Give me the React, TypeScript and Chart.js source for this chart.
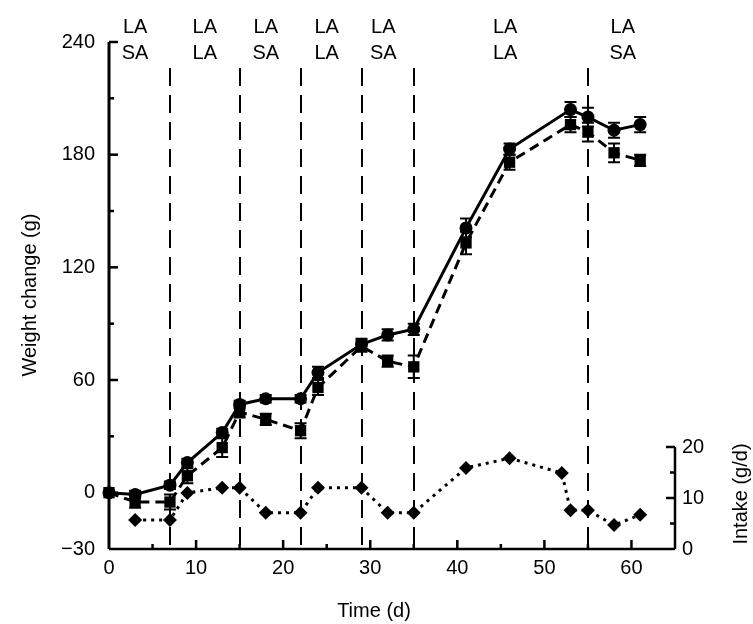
import React, { useEffect, useRef } from 'react';
import { Chart, registerables } from 'chart.js';

Chart.register(...registerables);

// ---- data ----
const weightDays = [0, 3, 7, 9, 13, 15, 18, 22, 24, 29, 32, 35, 41, 46, 53, 55, 58, 61];
const weightCircle = [0, -1, 4, 16, 32, 47, 50, 50, 64, 79, 84, 87, 141, 183, 204, 200, 193, 196];
const errCircle = [0, 2, 2, 2, 2, 2, 2, 2, 3, 3, 3, 3, 5, 3, 4, 5, 4, 4];
const weightSquare = [0, -5, -5, 9, 24, 43, 39, 33, 56, 78, 70, 67, 133, 176, 196, 192, 181, 177];
const errSquare = [0, 3, 4, 4, 5, 3, 3, 4, 4, 3, 3, 6, 6, 4, 4, 5, 5, 3];
const intakeDays = [3, 7, 9, 13, 15, 18, 22, 24, 29, 32, 35, 41, 46, 52, 53, 55, 58, 61];
const intake = [5.7, 5.7, 11, 12, 12, 7.1, 7.1, 12, 12, 7.1, 7.1, 15.9, 17.8, 14.9, 7.6, 7.6, 4.7, 6.7];

const phaseBoundaries = [7, 15, 22, 29, 35, 55];
const phaseLabelDays = [3, 11, 18, 25, 31.5, 45.5, 59];
const phaseTop = ['LA', 'LA', 'LA', 'LA', 'LA', 'LA', 'LA'];
const phaseBottom = ['SA', 'LA', 'SA', 'LA', 'SA', 'LA', 'SA'];

const xTicks = [0, 10, 20, 30, 40, 50, 60];
const xMinor = [5, 15, 25, 35, 45, 55];
const yTicks = [-30, 0, 60, 120, 180, 240];
const yMinor = [30, 90, 150, 210];
const y2Ticks = [0, 10, 20];
const y2Minor = [5, 15];

const FONT = "'Liberation Sans', Arial, Helvetica, sans-serif";
const FS = 20;

const overlay = {
  id: 'overlay',
  beforeDatasetsDraw(chart: any) {
    const ctx = chart.ctx;
    const x = chart.scales.x;
    const y = chart.scales.y;
    const area = chart.chartArea;
    ctx.save();
    ctx.strokeStyle = '#000';
    ctx.lineWidth = 2;
    ctx.setLineDash([18, 9]);
    phaseBoundaries.forEach((d) => {
      const px = Math.round(x.getPixelForValue(d));
      ctx.beginPath();
      ctx.moveTo(px, 68);
      ctx.lineTo(px, area.bottom);
      ctx.stroke();
    });
    ctx.setLineDash([]);
    const drawErr = (vals: number[], errs: number[]) => {
      ctx.lineWidth = 2;
      vals.forEach((v, i) => {
        const e = errs[i];
        if (!e) return;
        const px = x.getPixelForValue(weightDays[i]);
        const top = y.getPixelForValue(v + e);
        const bot = y.getPixelForValue(v - e);
        ctx.beginPath();
        ctx.moveTo(px, top);
        ctx.lineTo(px, bot);
        ctx.moveTo(px - 6, top);
        ctx.lineTo(px + 6, top);
        ctx.moveTo(px - 6, bot);
        ctx.lineTo(px + 6, bot);
        ctx.stroke();
      });
    };
    drawErr(weightCircle, errCircle);
    drawErr(weightSquare, errSquare);
    ctx.restore();
  },
  afterDraw(chart: any) {
    const ctx = chart.ctx;
    const x = chart.scales.x;
    const y = chart.scales.y;
    const y2 = chart.scales.y2;
    const area = chart.chartArea;
    ctx.save();
    ctx.strokeStyle = '#000';
    ctx.fillStyle = '#000';
    ctx.lineCap = 'butt';
    ctx.lineWidth = 3;
    ctx.beginPath();
    ctx.moveTo(area.left, area.top);
    ctx.lineTo(area.left, area.bottom);
    ctx.stroke();
    ctx.lineWidth = 2.5;
    ctx.beginPath();
    ctx.moveTo(area.left, area.bottom);
    ctx.lineTo(area.right, area.bottom);
    ctx.stroke();
    ctx.beginPath();
    ctx.moveTo(area.right, y2.getPixelForValue(20));
    ctx.lineTo(area.right, area.bottom);
    ctx.stroke();
    ctx.lineWidth = 2.5;
    yTicks.forEach((t) => {
      if (t === -30) return;
      const py = y.getPixelForValue(t);
      ctx.beginPath();
      ctx.moveTo(area.left, py);
      ctx.lineTo(area.left + 9, py);
      ctx.stroke();
    });
    yMinor.forEach((t) => {
      const py = y.getPixelForValue(t);
      ctx.beginPath();
      ctx.moveTo(area.left, py);
      ctx.lineTo(area.left + 5, py);
      ctx.stroke();
    });
    xTicks.forEach((t) => {
      if (t === 0) return;
      const px = x.getPixelForValue(t);
      ctx.beginPath();
      ctx.moveTo(px, area.bottom);
      ctx.lineTo(px, area.bottom - 9);
      ctx.stroke();
    });
    xMinor.forEach((t) => {
      const px = x.getPixelForValue(t);
      ctx.beginPath();
      ctx.moveTo(px, area.bottom);
      ctx.lineTo(px, area.bottom - 5);
      ctx.stroke();
    });
    y2Ticks.forEach((t) => {
      if (t === 0) return;
      const py = y2.getPixelForValue(t);
      ctx.beginPath();
      ctx.moveTo(area.right, py);
      ctx.lineTo(area.right - 9, py);
      ctx.stroke();
    });
    y2Minor.forEach((t) => {
      const py = y2.getPixelForValue(t);
      ctx.beginPath();
      ctx.moveTo(area.right, py);
      ctx.lineTo(area.right - 5, py);
      ctx.stroke();
    });
    ctx.font = `${FS}px ${FONT}`;
    ctx.textAlign = 'center';
    ctx.textBaseline = 'middle';
    phaseLabelDays.forEach((d, i) => {
      const px = x.getPixelForValue(d);
      ctx.fillText(phaseTop[i], px, 27);
      ctx.fillText(phaseBottom[i], px, 53);
    });
    ctx.fillText('Time (d)', 374, 611);
    ctx.save();
    ctx.translate(30, 295);
    ctx.rotate(-Math.PI / 2);
    ctx.fillText('Weight change (g)', 0, 0);
    ctx.restore();
    ctx.save();
    ctx.translate(741, 494);
    ctx.rotate(-Math.PI / 2);
    ctx.fillText('Intake (g/d)', 0, 0);
    ctx.restore();
    ctx.restore();
  },
};

export default function App() {
  const ref = useRef<HTMLCanvasElement | null>(null);
  useEffect(() => {
    document.body.style.margin = '0';
    const canvas = ref.current;
    if (!canvas) return;
    Chart.defaults.font.family = FONT;
    const chart = new Chart(canvas, {
      type: 'scatter',
      data: {
        datasets: [
          {
            data: weightDays.map((d, i) => ({ x: d, y: weightCircle[i] })),
            showLine: true,
            borderColor: '#000',
            backgroundColor: '#000',
            borderWidth: 3,
            pointStyle: 'circle',
            pointRadius: 6.5,
            pointBorderWidth: 0,
            pointBackgroundColor: '#000',
            tension: 0,
            yAxisID: 'y',
            clip: false,
          } as any,
          {
            data: weightDays.map((d, i) => ({ x: d, y: weightSquare[i] })),
            showLine: true,
            borderColor: '#000',
            backgroundColor: '#000',
            borderWidth: 3,
            borderDash: [10, 6],
            pointStyle: 'rect',
            pointRadius: 8,
            pointBorderWidth: 0,
            pointBackgroundColor: '#000',
            tension: 0,
            yAxisID: 'y',
            clip: false,
          } as any,
          {
            data: intakeDays.map((d, i) => ({ x: d, y: intake[i] })),
            showLine: true,
            borderColor: '#000',
            backgroundColor: '#000',
            borderWidth: 3,
            borderDash: [3, 5],
            pointStyle: 'rectRot',
            pointRadius: 7,
            pointBorderWidth: 0,
            pointBackgroundColor: '#000',
            tension: 0,
            yAxisID: 'y2',
            clip: false,
          } as any,
        ],
      },
      options: {
        animation: false,
        responsive: false,
        devicePixelRatio: 1,
        layout: { padding: { top: 42, left: 0, right: 0, bottom: 0 } },
        plugins: { legend: { display: false }, tooltip: { enabled: false } },
        scales: {
          x: {
            type: 'linear',
            min: 0,
            max: 65,
            afterBuildTicks: (s: any) => {
              s.ticks = xTicks.map((v) => ({ value: v }));
            },
            afterFit: (s: any) => {
              s.height = 75;
            },
            grid: { display: false, drawTicks: false },
            border: { display: false },
            ticks: { color: '#000', font: { size: FS, family: FONT }, padding: 7, maxRotation: 0, autoSkip: false },
          },
          y: {
            type: 'linear',
            position: 'left',
            min: -30,
            max: 240,
            afterBuildTicks: (s: any) => {
              s.ticks = yTicks.map((v) => ({ value: v }));
            },
            afterFit: (s: any) => {
              s.width = 109;
            },
            grid: { display: false, drawTicks: false },
            border: { display: false },
            ticks: {
              color: '#000',
              font: { size: FS, family: FONT },
              padding: 14,
              autoSkip: false,
              callback: (v: any) => (v < 0 ? '\u2212' + Math.abs(v) : String(v)),
            },
          },
          y2: {
            type: 'linear',
            position: 'right',
            min: 0,
            max: 99.4,
            afterBuildTicks: (s: any) => {
              s.ticks = y2Ticks.map((v) => ({ value: v }));
            },
            afterFit: (s: any) => {
              s.width = 78;
            },
            grid: { display: false, drawTicks: false },
            border: { display: false },
            ticks: { color: '#000', font: { size: FS, family: FONT }, padding: 7, autoSkip: false },
          },
        },
      } as any,
      plugins: [overlay],
    });
    return () => chart.destroy();
  }, []);
  return (
    <div style={{ width: 753, height: 624 }}>
      <canvas ref={ref} width={753} height={624} style={{ display: 'block', width: 753, height: 624 }} />
    </div>
  );
}
